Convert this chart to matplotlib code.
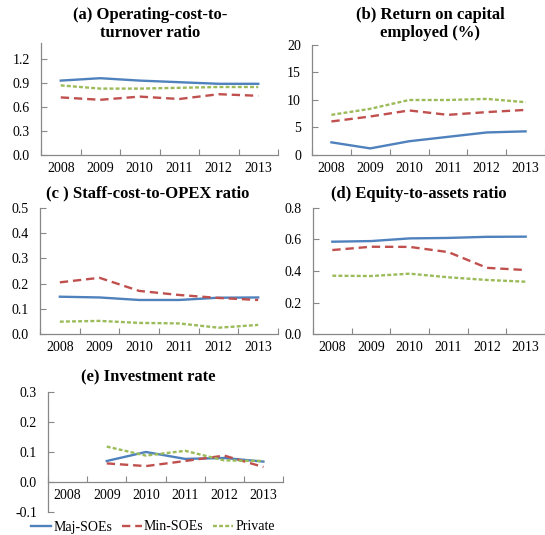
import matplotlib
matplotlib.use("Agg")
import matplotlib.pyplot as plt
import numpy as np

years = ["2008", "2009", "2010", "2011", "2012", "2013"]
series_names = ["Maj-SOEs", "Min-SOEs", "Private"]

# (a) Operating-cost-to-turnover ratio
a_maj = [0.93, 0.96, 0.93, 0.91, 0.89, 0.89]
a_min = [0.72, 0.69, 0.73, 0.70, 0.76, 0.74]
a_pri = [0.87, 0.83, 0.83, 0.84, 0.85, 0.85]
# (b) Return on capital employed (%)
b_maj = [2.3, 1.2, 2.5, 3.3, 4.1, 4.3]
b_min = [6.1, 7.0, 8.1, 7.3, 7.8, 8.2]
b_pri = [7.3, 8.4, 10.0, 10.0, 10.2, 9.6]
# (c) Staff-cost-to-OPEX ratio
c_maj = [0.148, 0.145, 0.135, 0.135, 0.144, 0.145]
c_min = [0.205, 0.223, 0.171, 0.155, 0.143, 0.135]
c_pri = [0.049, 0.052, 0.044, 0.042, 0.025, 0.036]
# (d) Equity-to-assets ratio
d_maj = [0.586, 0.590, 0.607, 0.610, 0.617, 0.618]
d_min = [0.533, 0.554, 0.553, 0.520, 0.420, 0.406]
d_pri = [0.370, 0.368, 0.383, 0.360, 0.343, 0.332]
# (e) Investment rate (no 2008 value)
e_maj = [np.nan, 0.070, 0.100, 0.077, 0.080, 0.068]
e_min = [np.nan, 0.062, 0.053, 0.070, 0.088, 0.050]
e_pri = [np.nan, 0.118, 0.088, 0.104, 0.072, 0.070]

titles = ["(a) Operating-cost-to-\nturnover ratio",
          "(b) Return on capital\nemployed (%)",
          "(c ) Staff-cost-to-OPEX ratio",
          "(d) Equity-to-assets ratio",
          "(e) Investment rate"]

plt.rcParams['font.family'] = ['Liberation Serif', 'DejaVu Serif']
plt.rcParams['lines.scale_dashes'] = False

W, H = 545, 535
fig = plt.figure(figsize=(W / 100, H / 100), dpi=100)

def fbox(l, r, t, b):
    return [l / W, 1 - b / H, (r - l) / W, (b - t) / H]

colors = ["#4F81BD", "#C0504D", "#9BBB59"]
styles = [dict(ls="-"), dict(dashes=(6, 3.5)), dict(dashes=(2.8, 1.6))]
spine_col = "#888888"

panels = [
    (fbox(41, 278, 43, 155), [a_maj, a_min, a_pri], (0, 1.4), np.arange(0, 1.21, 0.3), "{:.1f}", (150, 24)),
    (fbox(312, 545, 45, 155), [b_maj, b_min, b_pri], (0, 20), np.arange(0, 21, 5), "{:.0f}", (430, 24)),
    (fbox(40, 278, 208, 334), [c_maj, c_min, c_pri], (0, 0.5), np.arange(0, 0.51, 0.1), "{:.1f}", (148, 193)),
    (fbox(313, 545, 208, 334), [d_maj, d_min, d_pri], (0, 0.8), np.arange(0, 0.81, 0.2), "{:.1f}", (419, 194)),
    (fbox(48, 283, 392, 512), [e_maj, e_min, e_pri], (-0.1, 0.3), np.arange(-0.1, 0.31, 0.1), "{:.1f}", (148, 377)),
]

x = np.arange(len(years))
handles = []
for i, (box, data, ylim, yt, fmt, tpos) in enumerate(panels):
    ax = fig.add_axes(box)
    for j, vals in enumerate(data):
        ln, = ax.plot(x, vals, color=colors[j], lw=1.7, **styles[j])
        if i == 4:
            handles.append(ln)
    ax.set_xlim(-0.5, len(years) - 0.5)
    ax.set_ylim(*ylim)
    ax.set_yticks(yt)
    ax.set_yticklabels([fmt.format(v + 0.0) if abs(v) > 1e-9 else fmt.format(0.0) for v in yt])
    ax.set_xticks(np.arange(-0.5, len(years), 1.0), minor=False)
    ax.set_xticklabels([])
    ax.set_xticks(x, minor=True)
    ax.set_xticklabels(years, minor=True)
    ax.tick_params(axis="x", which="major", direction="in", length=4, color=spine_col, width=0.8)
    ax.tick_params(axis="x", which="minor", length=0, labelsize=10, pad=5)
    ax.tick_params(axis="y", direction="in", length=4, color=spine_col, width=0.8, labelsize=10, pad=8)
    for s in ["top", "right"]:
        ax.spines[s].set_visible(False)
    for s in ["left", "bottom"]:
        ax.spines[s].set_color(spine_col)
        ax.spines[s].set_linewidth(0.9)
    if i == 4:
        ax.spines["bottom"].set_position(("data", 0))
    ax.patch.set_alpha(0)
    fig.text(tpos[0] / W, 1 - tpos[1] / H, titles[i], ha="center", va="center",
             fontsize=12, fontweight="bold", linespacing=1.1)

fig.legend(handles, series_names, loc="center", bbox_to_anchor=(153 / W, 1 - 527 / H),
           ncol=3, frameon=False, fontsize=10, handlelength=1.45, handletextpad=0.15,
           columnspacing=0.7, borderpad=0)

fig.savefig("out.png", dpi=100)
